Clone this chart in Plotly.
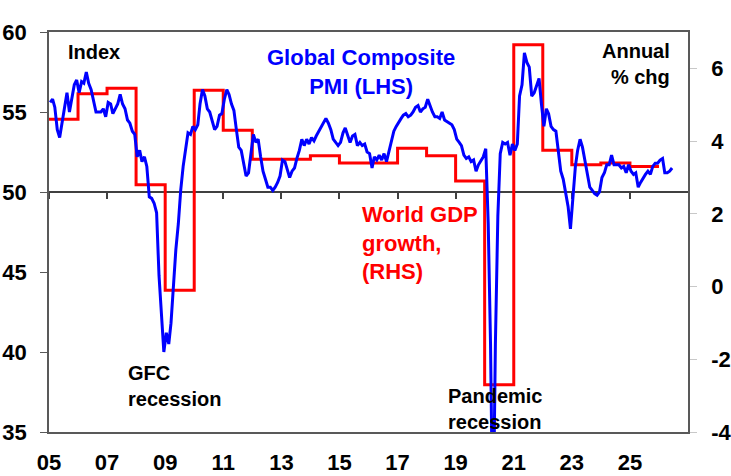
import pandas as pd
import plotly.graph_objects as go

# Global composite PMI, monthly from Jan 2005 (index, LHS)
pmi = [
    55.6, 55.8, 55.3, 53.9, 53.4, 54.4, 55.5, 56.2, 55.0, 55.8, 56.7, 57.0,  # 2005
    56.2, 56.9, 56.8, 57.5, 56.8, 56.4, 55.8, 55.0, 55.0, 55.0, 55.2, 54.7,  # 2006
    55.6, 55.5, 54.9, 55.2, 55.5, 56.1, 55.5, 55.2, 54.5, 54.3, 53.8, 53.6,  # 2007
    52.2, 52.6, 51.9, 52.2, 51.6, 49.7, 49.6, 49.3, 48.7, 44.8, 42.0, 40.0,  # 2008
    41.2, 40.5, 41.8, 44.2, 46.4, 48.0, 50.1, 51.6, 52.8, 53.7, 53.6, 54.1,  # 2009
    53.9, 54.2, 55.5, 56.4, 56.0, 55.2, 55.0, 54.4, 53.9, 54.1, 54.8, 54.9,  # 2010
    55.8, 56.4, 56.1, 55.5, 55.1, 53.9, 52.8, 52.6, 51.8, 51.0, 51.2, 52.4,  # 2011
    53.6, 53.1, 53.3, 52.2, 51.3, 50.8, 50.3, 50.3, 50.1, 50.3, 50.6, 51.0,  # 2012
    52.0, 51.9, 51.4, 50.9, 51.3, 51.5, 52.1, 52.6, 53.3, 52.9, 53.3, 53.0,  # 2013
    53.4, 53.2, 53.5, 53.8, 54.1, 54.4, 54.6, 54.3, 53.9, 53.3, 53.1, 52.9,  # 2014
    53.1, 53.7, 54.0, 53.6, 53.1, 53.5, 53.6, 52.9, 53.1, 52.9, 53.0, 52.5,  # 2015
    52.4, 51.5, 52.2, 52.0, 52.3, 52.0, 52.4, 51.9, 52.5, 53.2, 53.8, 54.1,  # 2016
    54.4, 54.6, 54.8, 54.9, 54.7, 54.8, 55.0, 55.3, 55.4, 55.0, 55.2, 55.3,  # 2017
    55.8, 55.3, 55.0, 54.7, 54.7, 54.6, 55.0, 54.5, 54.4, 54.3, 54.2, 53.9,  # 2018
    53.3, 53.1, 52.9, 52.3, 52.1, 52.2, 51.9, 52.0, 51.3, 51.7, 52.0, 52.2,  # 2019
    52.7, 48.0, 40.5, 28.0, 40.5, 48.5, 52.4, 53.1, 53.0, 53.1, 52.3, 53.0,  # 2020
    52.6, 53.0, 56.0, 56.7, 58.7, 58.1, 57.8, 56.0, 56.2, 56.6, 57.1, 55.5,  # 2021
    54.1, 55.2, 54.9, 54.1, 53.9, 53.8, 52.7, 51.3, 50.8, 49.9, 49.1, 47.7,  # 2022
    49.7, 51.6, 52.6, 53.3, 52.8, 52.0, 51.2, 50.3, 50.1, 49.9, 49.8, 50.0,  # 2023
    50.9, 51.2, 51.7, 51.7, 52.3, 51.7, 51.7, 51.7, 51.5, 51.6, 51.2, 51.7,  # 2024
    51.3, 51.1, 51.2, 50.3, 50.6, 50.9, 51.1, 51.3, 51.1, 51.6, 51.8, 51.8,  # 2025
    52.0, 52.1, 51.2, 51.2, 51.3, 51.5,                                      # 2026
]

# World GDP growth, annual % chg (RHS)
gdp_years = list(range(2005, 2026))
gdp_growth = [4.6, 5.3, 5.45, 2.8, -0.1, 5.4, 4.3, 3.5, 3.5, 3.6, 3.4,
              3.4, 3.8, 3.6, 2.9, -2.7, 6.65, 3.75, 3.35, 3.4, 3.3]

tick_years = list(range(2005, 2026, 2))
tick_text = [str(y)[2:] for y in tick_years]
rhs_ticks = [-4, -2, 0, 2, 4, 6]

# monthly points plotted mid-month, annual steps start on 1 Jan
pmi_dates = pd.date_range('2005-01-01', periods=len(pmi), freq='MS') + pd.Timedelta(days=14)
gdp_x = [pd.Timestamp(y, 1, 1) for y in gdp_years + [gdp_years[-1] + 1]]
gdp_y = gdp_growth + [gdp_growth[-1]]
tick_dates = [pd.Timestamp(y, 1, 1) for y in tick_years]
x_range = [pd.Timestamp(2005, 1, 1), pd.Timestamp(2027, 1, 1)]

FONT = 'Liberation Sans, Arial, sans-serif'
AXIS = '#595959'

fig = go.Figure()
fig.add_trace(go.Scatter(
    x=gdp_x, y=gdp_y, mode='lines', line_shape='hv',
    line=dict(color='#FF0000', width=3), xaxis='x', yaxis='y', hoverinfo='skip'
))
# PMI sits on the overlaid x2/y2 pair so it is drawn above the GDP steps
fig.add_trace(go.Scatter(
    x=pmi_dates, y=pmi, mode='lines',
    line=dict(color='#0000FF', width=3), xaxis='x2', yaxis='y2', hoverinfo='skip'
))

fig.update_layout(
    width=731, height=476,
    margin=dict(l=49, r=43, t=32, b=44),
    paper_bgcolor='white', plot_bgcolor='white',
    showlegend=False,
    font=dict(family=FONT, color='black'),
    xaxis=dict(
        type='date', range=x_range,
        tickvals=tick_dates, ticktext=tick_text,
        tickfont=dict(size=22, weight='bold'),
        ticks='', ticklabelstandoff=10,
        showline=True, mirror=True, linecolor=AXIS, linewidth=1.5,
        showgrid=False, zeroline=False, automargin=False,
    ),
    # crosses the PMI axis at 50, with small tick marks hanging below
    xaxis2=dict(
        type='date', range=x_range, overlaying='x',
        anchor='free', position=0.6,
        tickvals=tick_dates, showticklabels=False,
        ticks='outside', ticklen=6, tickcolor='#404040', tickwidth=1.5,
        showline=True, linecolor='#404040', linewidth=1.5,
        showgrid=False, zeroline=False, layer='below traces', automargin=False,
    ),
    yaxis=dict(
        side='right', range=[-4, 7],
        tickvals=rhs_ticks, ticktext=[str(v) for v in rhs_ticks],
        tickfont=dict(size=22, weight='bold'),
        ticks='outside', ticklen=7, tickcolor='#c8c8c8',
        ticklabelstandoff=10,
        showline=True, linecolor=AXIS, linewidth=1.5,
        showgrid=False, zeroline=False, automargin=False,
    ),
    yaxis2=dict(
        side='left', overlaying='y', anchor='x2', range=[35, 60], dtick=5,
        tickfont=dict(size=22, weight='bold'),
        ticks='outside', ticklen=7, tickcolor=AXIS,
        ticklabelstandoff=9,
        showline=True, linecolor=AXIS, linewidth=1.5,
        showgrid=False, zeroline=False, automargin=False,
    ),
)

def note(text, x, y, color='black', size=20, xanchor='left', align='left'):
    fig.add_annotation(
        text=text, x=x, y=y, xref='x', yref='y2',
        xanchor=xanchor, yanchor='middle', align=align, showarrow=False,
        font=dict(family=FONT, size=size, color=color, weight='bold'),
    )

note('Index', pd.Timestamp(2006, 7, 20), 58.75, xanchor='center', align='center')
note('Global Composite<br>PMI (LHS)', pd.Timestamp(2015, 10, 5), 57.5,
     color='#0000FF', size=22, xanchor='center', align='center')
note('Annual<br>% chg', pd.Timestamp(2026, 6, 10), 58.0, xanchor='right', align='right')
note('World GDP<br>growth,<br>(RHS)', pd.Timestamp(2015, 9, 20), 46.8, color='#FF0000', size=22)
note('GFC<br>recession', pd.Timestamp(2007, 8, 25), 37.9)
note('Pandemic<br>recession', pd.Timestamp(2018, 9, 1), 36.45)

# the page's default 8px body margin would shift the chart off the window
fig.write_html('out.html', config={'displayModeBar': False},
               post_script="document.body.style.margin='0';")
